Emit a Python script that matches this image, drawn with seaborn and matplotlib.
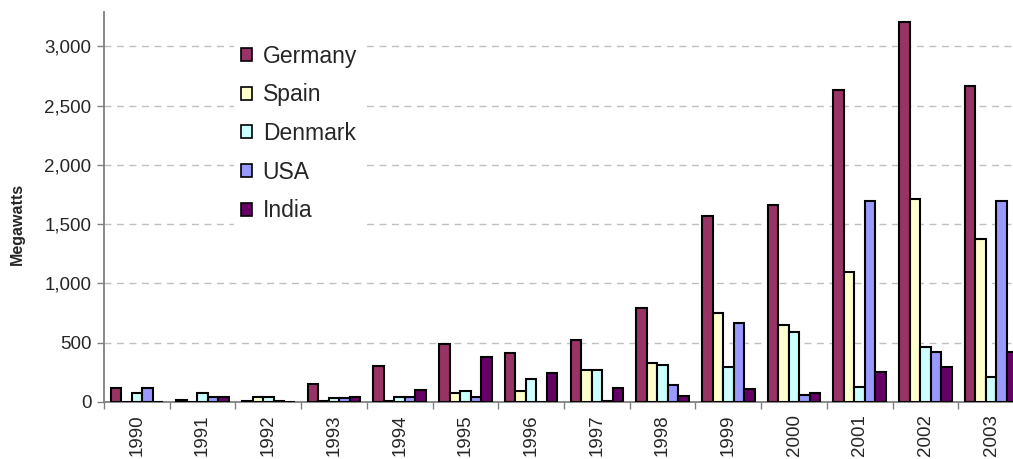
import matplotlib
matplotlib.use("Agg")
import matplotlib.pyplot as plt
import seaborn as sns
import pandas as pd
from matplotlib.ticker import FuncFormatter, FixedLocator, MultipleLocator

years = ["1990", "1991", "1992", "1993", "1994", "1995", "1996",
         "1997", "1998", "1999", "2000", "2001", "2002", "2003"]
countries = ["Germany", "Spain", "Denmark", "USA", "India"]
germany = [120, 15, 12, 150, 305, 490, 415, 520, 790, 1570, 1665, 2635, 3205, 2665]
spain = [0, 0, 40, 10, 10, 75, 95, 270, 330, 755, 650, 1095, 1710, 1375]
denmark = [75, 75, 40, 30, 40, 95, 195, 270, 310, 295, 590, 125, 465, 215]
usa = [120, 40, 10, 30, 40, 40, 0, 10, 140, 665, 60, 1695, 420, 1695]
india = [0, 40, 0, 45, 105, 380, 245, 120, 48, 113, 80, 250, 295, 420]
colors = ["#993366", "#FFFFCC", "#CCFFFF", "#9999FF", "#660066"]

series = [germany, spain, denmark, usa, india]
rows = []
for c, vals in zip(countries, series):
    for y, v in zip(years, vals):
        rows.append({"Year": y, "Megawatts": v, "Country": c})
df = pd.DataFrame(rows)

sns.set_style("white")
plt.rcParams["font.family"] = ["Liberation Sans", "DejaVu Sans"]

fig = plt.figure(figsize=(10.13, 4.59), dpi=100)
ax = fig.add_axes([104 / 1013, 57 / 459, 920 / 1013, 390 / 459])

sns.barplot(data=df, x="Year", y="Megawatts", hue="Country",
            hue_order=countries, palette=colors, saturation=1,
            edgecolor="black", linewidth=1.5, width=0.8, ax=ax, zorder=3)

ax.set_ylim(0, 3290)
ax.set_xlim(-0.5, 13.5)
ax.yaxis.set_major_locator(MultipleLocator(500))
ax.yaxis.set_major_formatter(FuncFormatter(lambda v, p: f"{int(v):,}"))
ax.grid(axis="y", color="#C0C0C0", linestyle=(0, (5, 4)), linewidth=1.0, zorder=0)
ax.set_axisbelow(True)

for s in ["top", "right"]:
    ax.spines[s].set_visible(False)
for s in ["left", "bottom"]:
    ax.spines[s].set_color("#808080")
    ax.spines[s].set_linewidth(1.3)

ax.tick_params(axis="y", which="major", length=5, width=1, color="#808080",
               labelsize=13.5, pad=4, left=True)
ax.tick_params(axis="x", which="major", length=0, labelsize=13.5, pad=9,
               labelrotation=90)
ax.xaxis.set_minor_locator(FixedLocator([i + 0.5 for i in range(-1, 14)]))
ax.tick_params(axis="x", which="minor", length=5, width=1, color="#808080",
               bottom=True)

ax.set_xlabel("")
ax.set_ylabel("Megawatts", fontsize=11.5, fontweight="bold")
ax.yaxis.set_label_coords(-0.0859, 0.456)

handles, labels = ax.get_legend_handles_labels()
leg = ax.legend(handles, labels, loc="upper left",
                bbox_to_anchor=(234 / 1013, 1 - 38 / 459),
                bbox_transform=fig.transFigure,
                fontsize=16.5, frameon=True, fancybox=False,
                handlelength=0.5, handleheight=0.5, handletextpad=0.45,
                labelspacing=0.68, borderpad=0.3, borderaxespad=0)
leg.get_frame().set_edgecolor("none")
leg.get_frame().set_facecolor("white")
leg.get_frame().set_alpha(1)
for h in leg.legend_handles:
    h.set_edgecolor("black")
    h.set_linewidth(1.2)

fig.savefig("out.png", dpi=100)
